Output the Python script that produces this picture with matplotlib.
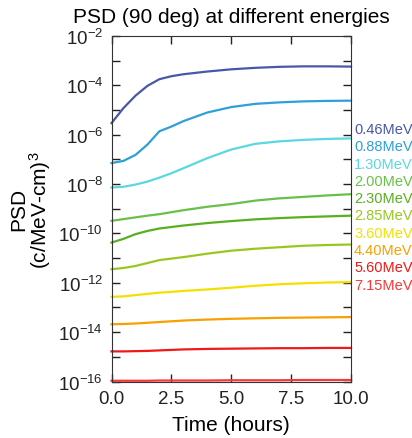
import matplotlib
matplotlib.use("Agg")
import matplotlib.pyplot as plt
import numpy as np
from matplotlib.ticker import FixedLocator, NullFormatter

plt.rcParams['font.family'] = ['Liberation Sans', 'DejaVu Sans']

# time samples (hours) and log10(PSD)
hours = [0.0, 0.5, 1.0, 1.5, 2.0, 2.5, 3.0, 4.0, 5.0, 6.0, 7.0, 8.0, 9.0, 10.0]
energies = ['0.46MeV', '0.88MeV', '1.30MeV', '2.00MeV', '2.30MeV',
            '2.85MeV', '3.60MeV', '4.40MeV', '5.60MeV', '7.15MeV']
colors = ['#4858a8', '#2ea0d8', '#58d8e0', '#68c048', '#58b020',
          '#98c820', '#f4e000', '#f8a000', '#f01818', '#f83838']
log_psd = [
    [-5.53, -4.92, -4.42, -4.02, -3.75, -3.63, -3.55, -3.44, -3.35, -3.29, -3.25, -3.23, -3.23, -3.24],
    [-7.15, -7.06, -6.82, -6.40, -5.86, -5.67, -5.45, -5.10, -4.88, -4.75, -4.69, -4.65, -4.63, -4.62],
    [-8.14, -8.11, -8.02, -7.90, -7.74, -7.56, -7.36, -6.95, -6.60, -6.37, -6.27, -6.21, -6.17, -6.15],
    [-9.49, -9.42, -9.35, -9.28, -9.22, -9.14, -9.06, -8.92, -8.81, -8.67, -8.58, -8.52, -8.46, -8.41],
    [-10.37, -10.22, -10.03, -9.90, -9.80, -9.74, -9.68, -9.58, -9.50, -9.43, -9.38, -9.34, -9.31, -9.28],
    [-11.45, -11.40, -11.32, -11.20, -11.08, -11.02, -10.96, -10.82, -10.70, -10.62, -10.56, -10.50, -10.47, -10.45],
    [-12.57, -12.55, -12.50, -12.45, -12.40, -12.37, -12.33, -12.27, -12.20, -12.12, -12.06, -12.02, -11.99, -11.97],
    [-13.68, -13.67, -13.65, -13.62, -13.59, -13.56, -13.53, -13.49, -13.46, -13.44, -13.42, -13.41, -13.40, -13.39],
    [-14.78, -14.78, -14.77, -14.76, -14.74, -14.72, -14.70, -14.68, -14.67, -14.66, -14.65, -14.65, -14.64, -14.64],
    [-15.97, -15.97, -15.97, -15.97, -15.96, -15.96, -15.96, -15.96, -15.95, -15.95, -15.95, -15.94, -15.94, -15.94],
]

fig = plt.figure(figsize=(4.12, 4.39), dpi=100)
ax = fig.add_axes([111.5 / 412, 1 - 382.5 / 439, 239.5 / 412, 345.5 / 439])

for vals, c in zip(log_psd, colors):
    ax.plot(hours, 10 ** np.array(vals), color=c, lw=1.6, clip_on=False,
            solid_joinstyle='round')

ax.set_yscale('log')
ax.set_xlim(0, 10)
ax.set_ylim(1e-16, 1e-2)
ax.set_xticks([0, 2.5, 5, 7.5, 10])
ax.set_xticklabels(['0.0', '2.5', '5.0', '7.5', '10.0'])
ax.yaxis.set_major_locator(FixedLocator([10.0 ** k for k in range(-16, -1, 2)]))
ax.yaxis.set_minor_locator(FixedLocator([10.0 ** k for k in range(-15, -2, 2)]))
ax.yaxis.set_minor_formatter(NullFormatter())
ax.set_yticklabels([r'$\mathregular{10^{%d}}$' % k for k in range(-16, -1, 2)])
ax.tick_params(which='both', direction='in', top=True, right=True,
               labelsize=13.5, width=1, length=6, pad=6, colors='#222222')
for s in ax.spines.values():
    s.set_color('#333333')

ax.set_title('PSD (90 deg) at different energies', fontsize=15, pad=10)
ax.set_xlabel('Time (hours)', fontsize=15, labelpad=6)
ax.set_ylabel('PSD\n' + r'(c/MeV-cm)$\mathregular{^3}$', fontsize=15, labelpad=4,
              linespacing=0.95)

for i, (lab, c) in enumerate(zip(energies, colors)):
    fig.text(354 / 412, 1 - (130 + 17.3 * i) / 439, lab, color=c,
             fontsize=10.5, va='center', ha='left')

fig.savefig('out.png', dpi=100)
